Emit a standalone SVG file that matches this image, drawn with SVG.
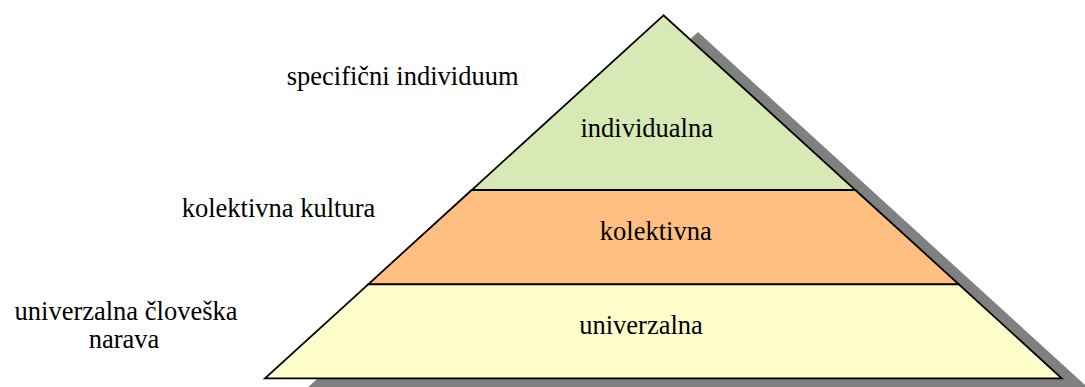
<svg xmlns="http://www.w3.org/2000/svg" width="1085" height="387" viewBox="0 0 1085 387">
<style>
.t{font-family:'Liberation Serif','Times New Roman',Tinos,'DejaVu Serif',serif;font-size:26.5px;fill:#000}
.c{text-anchor:middle}
.layer{stroke:#000;stroke-width:1.8;stroke-linejoin:miter}
</style>
<rect width="1085" height="387" fill="#fff"/>
<g id="shadow">
<polygon points="698,32 299.5,395 1096,395" fill="#808080"/>
</g>
<g id="level-individualna">
<polygon class="layer" points="663.5,15.3 471.7,190 855.3,190" fill="#D7E9B4"/>
<text class="t c" font-family="Liberation Serif, serif" x="646.7" y="137">individualna</text>
</g>
<g id="level-kolektivna">
<polygon class="layer" points="471.7,190 855.3,190 958.8,284.3 368.2,284.3" fill="#FFBF80"/>
<text class="t c" font-family="Liberation Serif, serif" x="655.8" y="240">kolektivna</text>
</g>
<g id="level-univerzalna">
<polygon class="layer" points="368.2,284.3 958.8,284.3 1061.7,378.3 265,378.3" fill="#FFFFCC"/>
<text class="t c" font-family="Liberation Serif, serif" x="641" y="334">univerzalna</text>
</g>
<g id="label-specificni">
<text class="t" font-family="Liberation Serif, serif" x="286.7" y="85">specifični individuum</text>
</g>
<g id="label-kolektivna-kultura">
<text class="t" font-family="Liberation Serif, serif" x="181.7" y="217">kolektivna kultura</text>
</g>
<g id="label-univerzalna">
<text class="t c" font-family="Liberation Serif, serif" x="126" y="320">univerzalna človeška</text>
<text class="t c" font-family="Liberation Serif, serif" x="124" y="348">narava</text>
</g>
<g id="connectors"></g>
</svg>
